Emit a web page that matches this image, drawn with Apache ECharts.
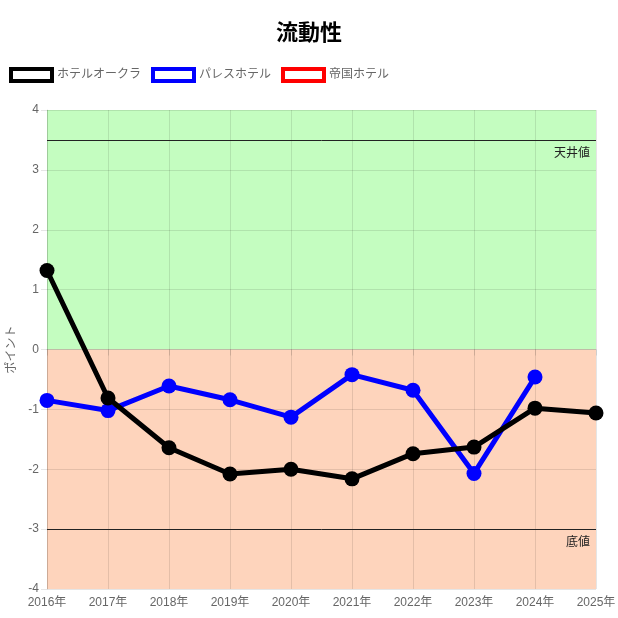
<!DOCTYPE html>
<html><head><meta charset="utf-8">
<script src="https://cdn.jsdelivr.net/npm/echarts@6/dist/echarts.min.js"></script>
<style>html,body{margin:0;padding:0;background:#fff}#c{width:618px;height:618px}</style>
</head><body><div id="c"></div>
<script>
const categories = ['2016年','2017年','2018年','2019年','2020年','2021年','2022年','2023年','2024年','2025年'];
const okura = [1.32, -0.81, -1.64, -2.08, -2.0, -2.16, -1.74, -1.63, -0.98, -1.06];
const palace = [-0.85, -1.02, -0.61, -0.84, -1.13, -0.42, -0.68, -2.07, -0.46, null];
const imperial = [null, null, null, null, null, null, null, null, null, null];
const seriesNames = ['ホテルオークラ','パレスホテル','帝国ホテル'];
const seriesColors = ['#000000','#0000ff','#ff0000'];
const ceilingValue = 3.5, floorValue = -3;
const ceilingLabel = '天井値', floorLabel = '底値';
const yTicks = {min: -4, max: 4, interval: 1};

const FONT = '"Liberation Sans", "Noto Sans CJK JP", sans-serif';
const chart = echarts.init(document.getElementById('c'));
const datas = [okura, palace, imperial];
const series = datas.map((d, i) => ({
  name: seriesNames[i],
  type: 'line',
  data: d,
  color: seriesColors[i],
  symbol: 'circle',
  symbolSize: 15,
  showSymbol: true,
  lineStyle: {width: 5, color: seriesColors[i]},
  itemStyle: {color: seriesColors[i]},
  z: 10 - i,
  animation: false
}));
series.push({
  name: '_bg', type: 'line', data: [], silent: true,
  markArea: {
    silent: true, z: -1,
    data: [
      [{yAxis: 0, itemStyle: {color: '#c4fdc0'}}, {yAxis: 4}],
      [{yAxis: -4, itemStyle: {color: '#fed4bc'}}, {yAxis: 0}]
    ]
  },
  markLine: {
    silent: true, symbol: 'none', z: 3,
    lineStyle: {color: '#222', width: 1, type: 'solid'},
    label: {position: 'insideEndBottom', color: '#222', fontSize: 12, fontFamily: FONT, distance: [6, 8]},
    data: [
      {yAxis: ceilingValue, label: {formatter: ceilingLabel}},
      {yAxis: floorValue, label: {formatter: floorLabel}}
    ]
  },
  z: -1
});

chart.setOption({
  animation: false,
  textStyle: {fontFamily: FONT},
  title: {
    text: '流動性', left: 'center', top: 18,
    textStyle: {fontSize: 22, fontWeight: 'bold', color: '#000', fontFamily: FONT}
  },
  legend: {
    data: seriesNames.map((n, i) => ({
      name: n,
      itemStyle: {color: '#fff', borderColor: seriesColors[i], borderWidth: 4}
    })),
    left: 4, top: 62,
    icon: 'rect', itemWidth: 41, itemHeight: 12, itemGap: 10,
    textStyle: {color: '#666', fontSize: 12, fontFamily: FONT},
    selectedMode: false
  },
  grid: {left: 47, right: 22, top: 110, bottom: 29, containLabel: false, outerBoundsMode: 'none'},
  xAxis: {
    type: 'category', data: categories, boundaryGap: false, z: 2,
    axisLine: {show: true, lineStyle: {color: 'rgba(0,0,0,0.1)'}},
    axisTick: {show: true, length: 6, lineStyle: {color: 'rgba(0,0,0,0.1)'}},
    axisLabel: {color: '#666', fontSize: 12, margin: 8, fontFamily: FONT},
    splitLine: {show: true, lineStyle: {color: 'rgba(0,0,0,0.1)'}}
  },
  yAxis: {
    type: 'value', min: yTicks.min, max: yTicks.max, interval: yTicks.interval, z: 2,
    name: 'ポイント', nameLocation: 'middle', nameRotate: 90, nameGap: 29,
    nameTextStyle: {color: '#666', fontSize: 12, fontFamily: FONT},
    axisLine: {show: true, lineStyle: {color: 'rgba(0,0,0,0.1)'}},
    axisTick: {show: true, length: 6, lineStyle: {color: 'rgba(0,0,0,0.1)'}},
    axisLabel: {color: '#666', fontSize: 12, margin: 8, fontFamily: FONT},
    splitLine: {show: true, lineStyle: {color: 'rgba(0,0,0,0.1)'}}
  },
  series: series
});
</script></body></html>
